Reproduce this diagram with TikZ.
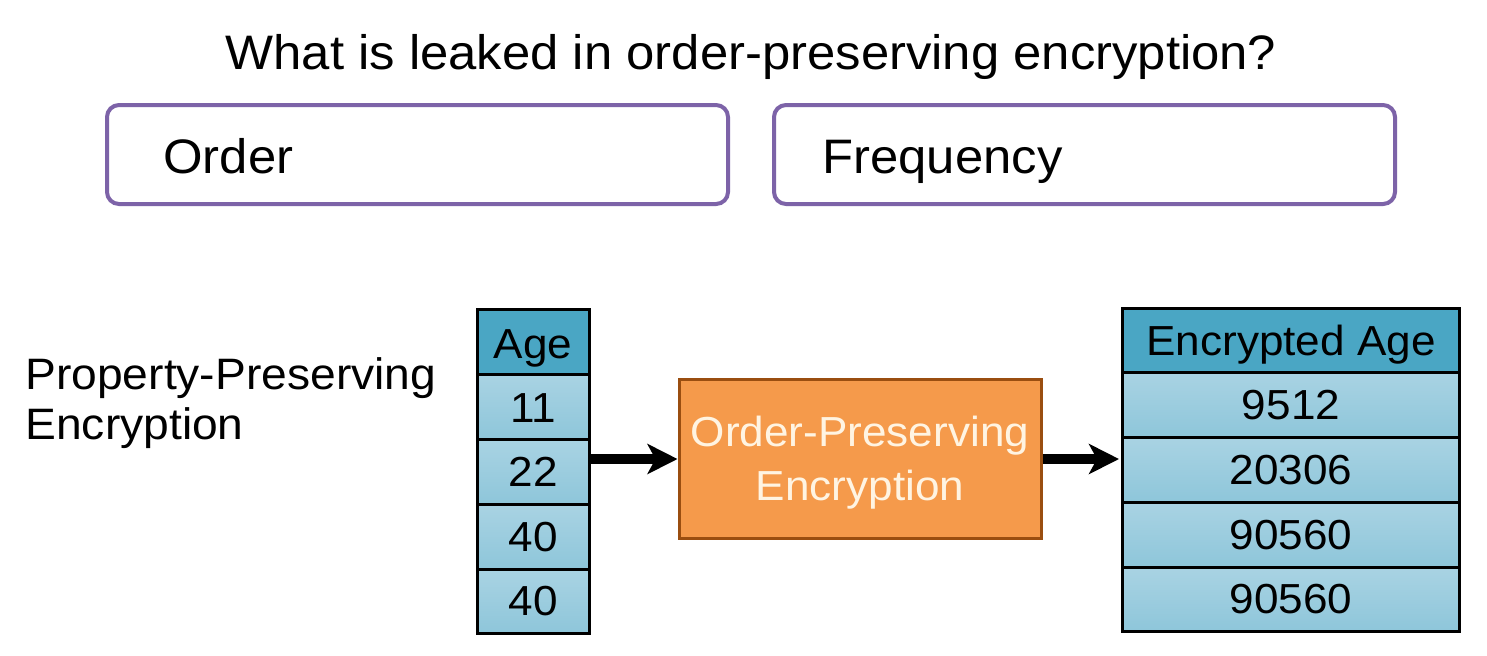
\documentclass[tikz,border=0pt]{standalone}
\usepackage{fontspec}
\setmainfont[FakeStretch=1.05]{Liberation Sans}
\usetikzlibrary{arrows.meta}
\definecolor{purp}{HTML}{7D63A8}
\definecolor{hdr}{HTML}{4AA6C4}
\definecolor{rowtop}{HTML}{A9D3E3}
\definecolor{rowbot}{HTML}{8EC6DA}
\definecolor{orfill}{HTML}{F59A4B}
\definecolor{ordraw}{HTML}{9A4E10}
\definecolor{ortext}{HTML}{FFF4E2}
\tikzset{
  answerbox/.style={draw=purp, line width=2pt, rounded corners=6pt, fill=white},
  cellhdr/.style={draw=black, line width=1.5pt, fill=hdr},
  cellrow/.style={draw=black, line width=1.5pt, top color=rowtop, bottom color=rowbot},
  celltext/.style={anchor=base, inner sep=0pt, font=\fontsize{21}{24}\selectfont, text=black},
  opetext/.style={anchor=base, inner sep=0pt, font=\fontsize{21}{24}\selectfont, text=ortext},
  ppetext/.style={anchor=base west, inner sep=0pt, font=\fontsize{22}{26}\selectfont},
  bigtext/.style={inner sep=0pt, font=\fontsize{24.2}{28}\selectfont},
  bigarrow/.style={line width=5pt, -{Stealth[length=15pt,width=15pt,inset=4pt]}},
}
\begin{document}
\begin{tikzpicture}[x=0.5pt,y=-0.5pt]
\useasboundingbox (0,0) rectangle (1487,655);
\fill[white] (0,0) rectangle (1487,655);
% title
\node[bigtext, anchor=base] (title) at (751,69) {What is leaked in order-preserving encryption?};
% answer boxes
\draw[answerbox] (107,105) rectangle (728,204);
\node[bigtext, anchor=base west] (order) at (163,173) {Order};
\draw[answerbox] (774,105) rectangle (1395,204);
\node[bigtext, anchor=base west] (freq) at (822,173) {Frequency};
% left label
\node[ppetext] (ppe1) at (25,389) {Property-Preserving};
\node[ppetext] (ppe2) at (25,439) {Encryption};
% Age table
\path[cellhdr] (477,309) rectangle (589,374);
\path[cellrow] (477,374) rectangle (589,439);
\path[cellrow] (477,439) rectangle (589,504);
\path[cellrow] (477,504) rectangle (589,569);
\path[cellrow] (477,569) rectangle (589,633);
\node[celltext] (agehdr) at (533,358) {Age};
\node[celltext] (a1) at (533,422) {11};
\node[celltext] (a2) at (533,486) {22};
\node[celltext] (a3) at (533,551) {40};
\node[celltext] (a4) at (533,615) {40};
\coordinate (ageR) at (591,459);
% OPE box
\node[draw=ordraw, line width=1.5pt, fill=orfill, minimum width=181pt, minimum height=79.5pt, inner sep=0pt] (ope) at (860,458.5) {};
\node[opetext] (ope1) at (860,446) {Order-Preserving};
\node[opetext] (ope2) at (860,500) {Encryption};
% Encrypted table
\path[cellhdr] (1122,308) rectangle (1459,372);
\path[cellrow] (1122,372) rectangle (1459,437);
\path[cellrow] (1122,437) rectangle (1459,502);
\path[cellrow] (1122,502) rectangle (1459,567);
\path[cellrow] (1122,567) rectangle (1459,631);
\node[celltext] (ehdr) at (1291,355) {Encrypted Age};
\node[celltext] (e1) at (1291,419) {9512};
\node[celltext] (e2) at (1291,484) {20306};
\node[celltext] (e3) at (1291,549) {90560};
\node[celltext] (e4) at (1291,613) {90560};
\coordinate (encL) at (1119,459);
% arrows
\draw[bigarrow] (ageR) -- (ope.west |- ageR);
\draw[bigarrow] (ope.east |- encL) -- (encL);
\end{tikzpicture}
\end{document}
